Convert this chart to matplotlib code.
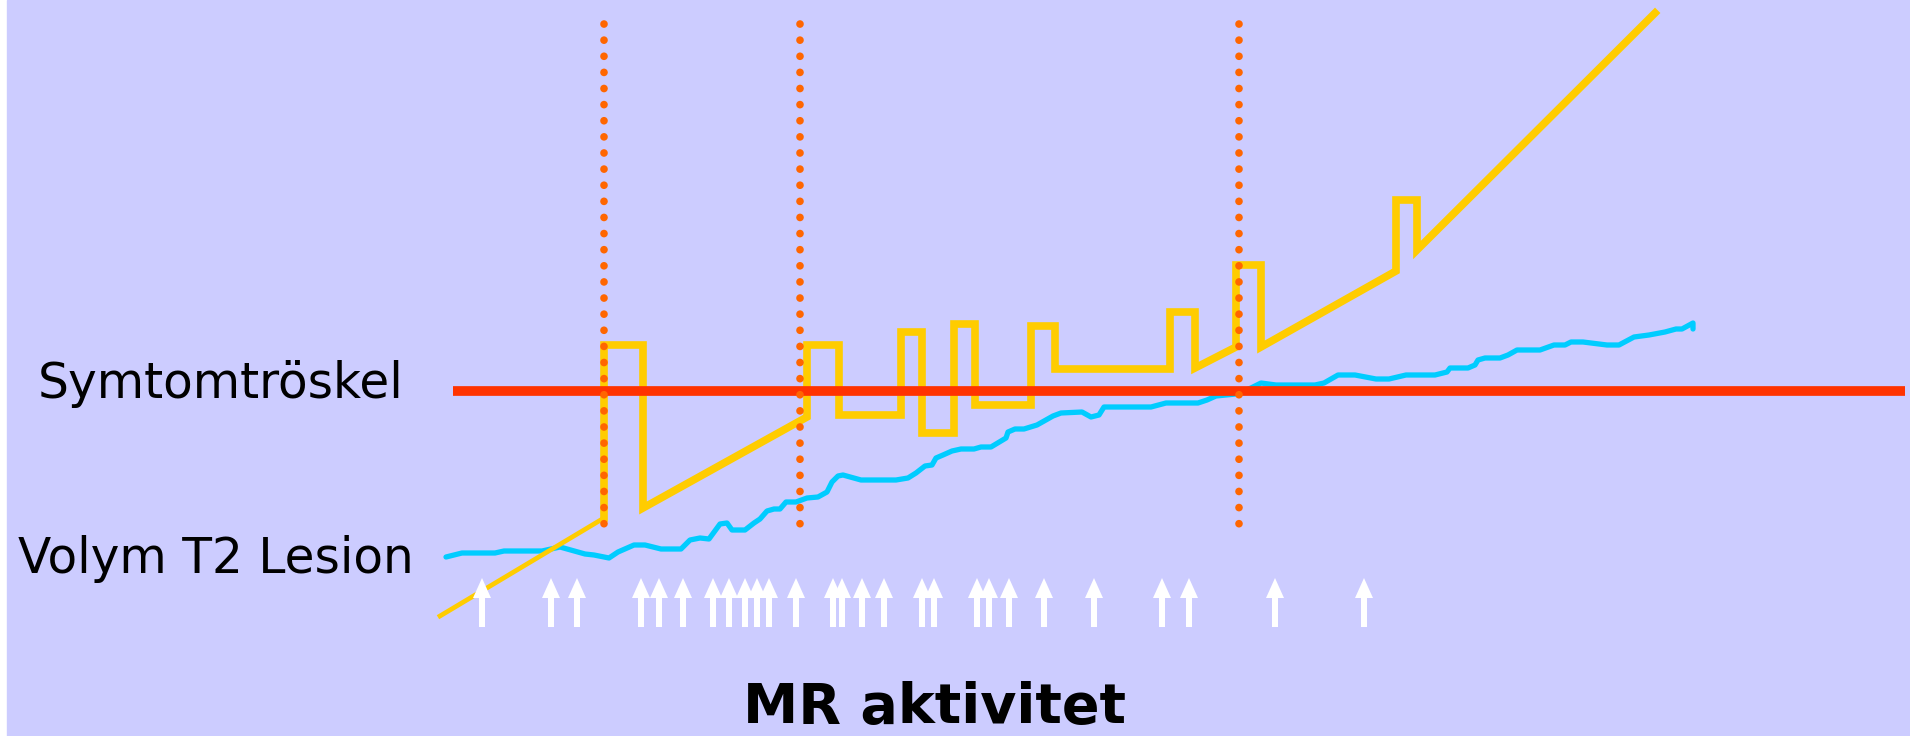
import matplotlib.pyplot as plt

# values are in picture units (x to the right, y downwards)
threshold_y = 391
threshold_x = [453, 1905]

relapse_x = [604, 800, 1239]
relapse_top = 24
relapse_bottom = 525

# disability before first relapse (thin)
disab_pre_x = [440, 604]
disab_pre_y = [616, 518]

# disability with relapses (thick)
disab_x = [604, 604, 643, 643, 807, 807, 839, 839, 901, 901, 922, 922,
           954, 954, 975, 975, 1031, 1031, 1055, 1055, 1170, 1170, 1195,
           1195, 1236, 1236, 1261, 1261, 1396, 1396, 1417, 1417, 1655]
disab_y = [518, 345, 345, 508, 417, 345, 345, 415, 415, 332, 332, 433,
           433, 324, 324, 405, 405, 326, 326, 369, 369, 312, 312,
           368, 347, 265, 265, 347, 271, 200, 200, 250, 13]

# T2 lesion volume
t2_x = [446, 462, 495, 504, 542, 560, 585, 594, 609, 618, 634, 645, 661,
        681, 690, 700, 709, 720, 727, 732, 745, 754, 760, 767, 774, 780,
        786, 796, 807, 818, 827, 832, 838, 843, 861, 896, 908, 916, 925,
        932, 936, 943, 952, 961, 974, 981, 991, 1006, 1008, 1015, 1024,
        1037, 1053, 1061, 1082, 1091, 1099, 1104, 1151, 1166, 1198, 1207,
        1216, 1236, 1251, 1261, 1276, 1315, 1324, 1338, 1355, 1376, 1389,
        1406, 1435, 1447, 1450, 1468, 1475, 1478, 1485, 1500, 1508, 1517,
        1540, 1554, 1565, 1571, 1583, 1607, 1619, 1634, 1649, 1665, 1676,
        1682, 1693, 1693]
t2_y = [557, 553, 553, 551, 551, 547, 554, 555, 558, 552, 545, 545, 549,
        549, 540, 538, 539, 524, 523, 530, 530, 523, 519, 511, 509, 509,
        502, 502, 498, 497, 492, 482, 476, 475, 480, 480, 478, 473, 466,
        465, 458, 455, 451, 449, 449, 447, 447, 438, 432, 429, 429,
        425, 416, 413, 412, 417, 415, 407, 407, 403, 403, 400,
        396, 394, 388, 383, 385, 385, 383, 375, 375, 379, 379,
        375, 375, 372, 368, 368, 365, 360, 358, 358, 355, 350,
        350, 345, 345, 342, 342, 345, 345, 337, 335, 332, 329,
        329, 323, 329]

# MR activity (new lesions)
mr_x = [482, 551, 577, 641, 659, 683, 713, 729, 745, 757, 769, 796, 833,
        842, 862, 884, 922, 934, 977, 989, 1009, 1044, 1094, 1162, 1189,
        1275, 1364]
mr_top = 578
mr_bottom = 627

fig = plt.figure(figsize=(19.1, 7.36), dpi=100)
fig.patch.set_facecolor('white')
ax = fig.add_axes([0, 0, 1, 1])
ax.set_xlim(0, 1910)
ax.set_ylim(736, 0)
ax.axis('off')
ax.axvspan(7, 1910, color='#CCCCFF', zorder=0)

ax.plot(t2_x, t2_y, color='#00CCFF', lw=3.8, solid_joinstyle='round',
        solid_capstyle='round', zorder=2)
ax.plot(disab_pre_x, disab_pre_y, color='#FFCC00', lw=3.4, zorder=3)
ax.plot(disab_x, disab_y, color='#FFCC00', lw=5.5, solid_joinstyle='miter',
        zorder=3)
ax.plot(threshold_x, [threshold_y, threshold_y], color='#FF3300', lw=7,
        solid_capstyle='butt', zorder=4)
for x in relapse_x:
    ax.plot([x, x], [relapse_top, relapse_bottom], color='#FF6600', lw=5.5,
            ls=(0, (0.01, 2.1)), dash_capstyle='round', zorder=5)

for x in mr_x:
    ax.arrow(x, mr_bottom, 0, mr_top - mr_bottom, width=6, head_width=18,
             head_length=20, length_includes_head=True, color='white',
             lw=0, zorder=6)

ax.text(38, 398, 'Symtomtröskel', fontsize=35, family='DejaVu Sans',
        ha='left', va='baseline', zorder=7)
ax.text(18, 573, 'Volym T2 Lesion', fontsize=35, family='DejaVu Sans',
        ha='left', va='baseline', zorder=7)
ax.text(934, 735, 'MR aktivitet', fontsize=40, family='DejaVu Sans',
        fontweight='bold', ha='center', va='bottom', zorder=7)

fig.savefig('out.png', dpi=100, facecolor=fig.get_facecolor())
